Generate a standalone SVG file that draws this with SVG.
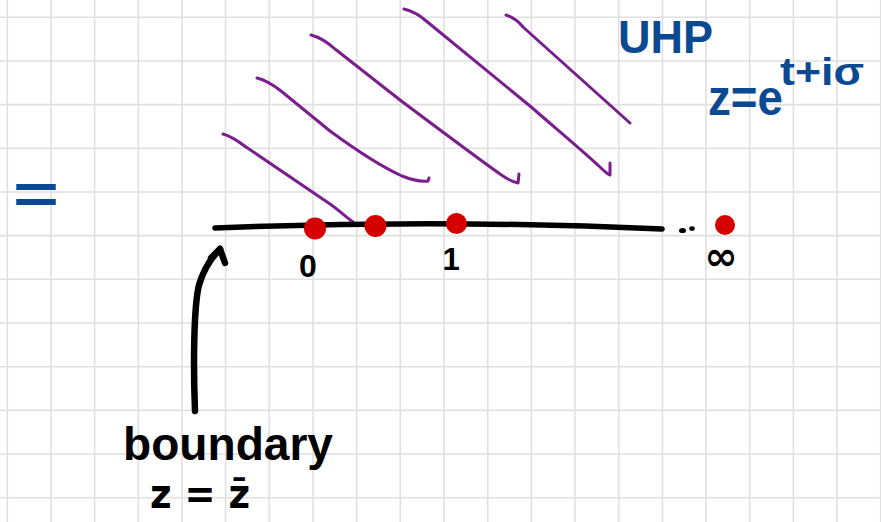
<svg xmlns="http://www.w3.org/2000/svg" width="881" height="522" viewBox="0 0 881 522">
  <style>
    .grid { stroke: #e0e0e0; stroke-width: 1.6; fill: none; }
    .hatch { stroke: #7a1e8e; stroke-width: 3; fill: none; stroke-linecap: round; stroke-linejoin: round; }
    .ink { stroke: #000; fill: none; stroke-linecap: round; stroke-linejoin: round; }
    .dot { fill: #d40000; }
    .blk { font-family: "Liberation Sans", Arial, sans-serif; font-weight: bold; fill: #000; }
    .blue { font-family: "Liberation Sans", Arial, sans-serif; font-weight: bold; fill: #0b4a93; }
  </style>
  <rect width="881" height="522" fill="#fff"/>
  <g id="grid">
    <path class="grid" d="M7.3,0V522M51,0V522M94.6,0V522M138.3,0V522M182,0V522M225.6,0V522M269.3,0V522M313,0V522M356.7,0V522M400.3,0V522M444,0V522M487.7,0V522M531.3,0V522M575,0V522M618.7,0V522M662.4,0V522M706,0V522M749.7,0V522M793.4,0V522M837,0V522M880.7,0V522"/>
    <path class="grid" d="M0,17.3H881M0,61H881M0,104.6H881M0,148.3H881M0,192H881M0,235.6H881M0,279.3H881M0,323H881M0,366.7H881M0,410.3H881M0,454H881M0,497.7H881"/>
  </g>
  <g id="uhp-hatching">
    <path class="hatch" d="M223,134 C231,136 238,141 246,147 L330,204 C340,211 346,217 353,222"/>
    <path class="hatch" d="M257,78 C265,80 272,84 281,91 L330,131 C360,153 382,167 402,176 C412,180 420,182 428,181 L429,178"/>
    <path class="hatch" d="M311,35 C319,37 326,41 335,49 L400,100 C440,130 480,160 500,174 C507,179 512,182 518,183 L519,174"/>
    <path class="hatch" d="M404,9 C412,11 418,14 425,20 L530,106 C560,132 585,153 600,167 C604,171 607,174 610,175 L610,163"/>
    <path class="hatch" d="M506,15 C512,17 518,21 523,27 L630,123"/>
  </g>
  <g id="real-axis">
    <path class="ink" stroke-width="5.5" d="M215,228 Q440,219 662,229"/>
    <ellipse cx="682.5" cy="230.5" rx="3.5" ry="2.6" fill="#000"/>
    <ellipse cx="692" cy="228.5" rx="2.8" ry="2.3" fill="#000"/>
  </g>
  <g id="point-0">
    <circle class="dot" cx="315" cy="228.5" r="11"/>
    <text class="blk" x="308" y="277" font-size="32" text-anchor="middle">0</text>
  </g>
  <g id="point-mid">
    <circle class="dot" cx="375.5" cy="226" r="11"/>
  </g>
  <g id="point-1">
    <circle class="dot" cx="456.5" cy="223.5" r="10.5"/>
    <text class="blk" x="451" y="270" font-size="31" text-anchor="middle">1</text>
  </g>
  <g id="point-inf">
    <circle class="dot" cx="725" cy="225" r="10"/>
    <text x="721" y="270" font-family="DejaVu Sans, sans-serif" font-weight="bold" font-size="40" text-anchor="middle" fill="#000">∞</text>
  </g>
  <g id="label-uhp">
    <text class="blue" x="618" y="53" font-size="46" textLength="95" lengthAdjust="spacingAndGlyphs">UHP</text>
    <text class="blue" x="708" y="115" font-size="50" textLength="75" lengthAdjust="spacingAndGlyphs">z=e</text>
    <text class="blue" x="780" y="85" font-size="38" textLength="84" lengthAdjust="spacingAndGlyphs">t+iσ</text>
  </g>
  <g id="label-equals">
    <text class="blue" x="13" y="213" font-size="56" textLength="46" lengthAdjust="spacingAndGlyphs">=</text>
  </g>
  <g id="label-boundary">
    <text class="blk" x="123" y="460" font-size="46" textLength="210" lengthAdjust="spacingAndGlyphs">boundary</text>
    <text x="150" y="508" font-family="DejaVu Sans, sans-serif" font-weight="bold" font-size="40" textLength="100" lengthAdjust="spacingAndGlyphs" fill="#000">z = z̄</text>
  </g>
  <g id="connectors">
    <path class="ink" stroke-width="6.5" d="M195,411 C193,360 194,305 199,285 C204,268 211,258 220,249"/>
    <path class="ink" stroke-width="6.5" d="M211,258 L220,249 L225,263"/>
  </g>
</svg>
